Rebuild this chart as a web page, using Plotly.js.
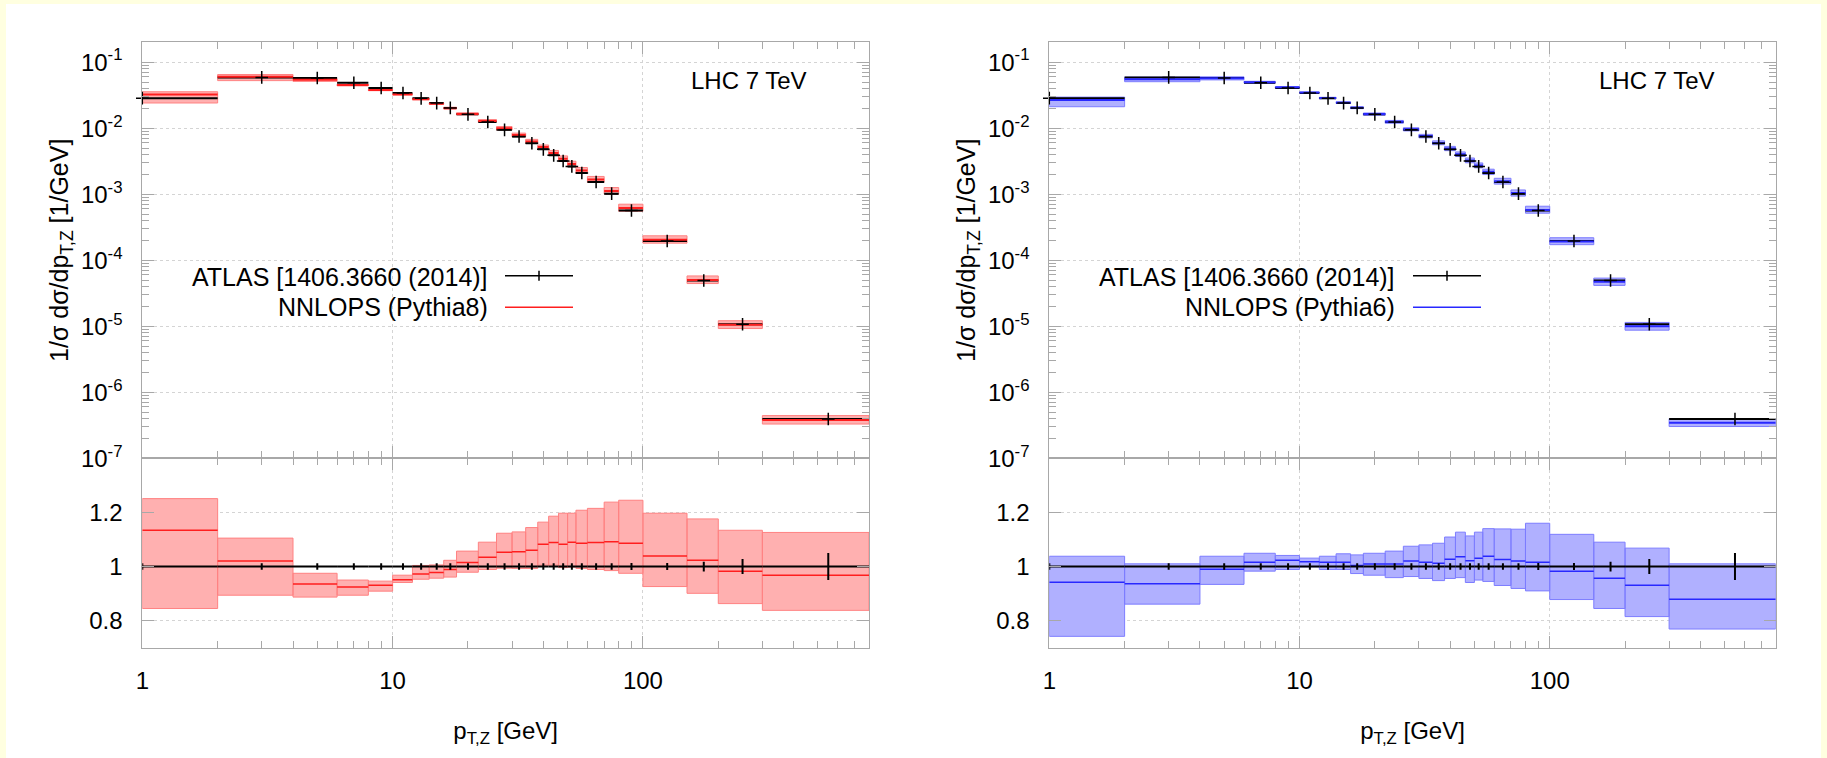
<!DOCTYPE html>
<html><head><meta charset="utf-8">
<script src="https://cdn.plot.ly/plotly-3.0.1.min.js"></script>
<style>html,body{margin:0;padding:0;background:#ffffe0;} #chart{width:1827px;height:758px;}</style>
</head><body><div id="chart"></div>
<script>
// ---------------- data ----------------
const binLow  = [0,2,4,6,8,10,12,14,16,18,22,26,30,34,38,42,46,50,54,60,70,80,100,150,200,300];
const binHigh = [2,4,6,8,10,12,14,16,18,22,26,30,34,38,42,46,50,54,60,70,80,100,150,200,300,800];
const binCenter = [1,3,5,7,9,11,13,15,17,20,24,28,32,36,40,44,48,52,57,65,75,90,125,175,250,550];

// ATLAS 1/sigma dsigma/dpT [1/GeV]
const atlasValue = [0.0285,0.0588,0.0577,0.0489,0.0407,0.0341,0.0283,0.0240,0.0203,0.0162,0.0124,0.00944,
  0.00747,0.00592,0.00478,0.00388,0.00318,0.00264,0.00210,0.00153,0.00102,0.000567,0.000196,4.92e-5,1.07e-5,3.94e-7];
const atlasRelErr = [0.012,0.012,0.012,0.012,0.012,0.012,0.012,0.012,0.012,0.012,0.012,0.012,0.012,
  0.012,0.012,0.012,0.012,0.012,0.012,0.012,0.012,0.013,0.013,0.018,0.028,0.050];

// NNLOPS (Pythia8) / data
const p8Ratio   = [1.134,1.020,0.935,0.924,0.931,0.951,0.972,0.978,0.989,1.015,1.034,1.053,1.055,1.060,1.082,1.089,1.082,1.090,1.086,1.089,1.092,1.086,1.039,1.023,0.983,0.968];
const p8RatioLo = [0.845,0.894,0.887,0.894,0.909,0.941,0.953,0.957,0.961,0.979,0.989,0.994,0.993,0.993,1.005,1.005,0.996,0.998,0.993,0.989,0.985,0.975,0.926,0.901,0.863,0.838];
const p8RatioHi = [1.251,1.105,0.975,0.950,0.946,0.968,1.004,1.006,1.023,1.057,1.090,1.123,1.128,1.144,1.164,1.186,1.197,1.197,1.208,1.215,1.238,1.245,1.197,1.176,1.134,1.126];

// NNLOPS (Pythia6) / data
const p6Ratio   = [0.942,0.936,0.990,1.016,1.023,1.018,1.016,1.016,1.004,1.009,1.009,1.020,1.016,1.012,1.027,1.036,1.021,1.031,1.038,1.026,1.020,1.016,0.983,0.957,0.931,0.879];
const p6RatioLo = [0.742,0.861,0.934,0.983,0.989,0.999,0.989,0.989,0.974,0.968,0.959,0.963,0.956,0.948,0.956,0.959,0.941,0.950,0.945,0.930,0.919,0.910,0.878,0.845,0.815,0.769];
const p6RatioHi = [1.038,1.010,1.038,1.049,1.041,1.031,1.038,1.047,1.043,1.049,1.057,1.075,1.080,1.086,1.109,1.127,1.113,1.127,1.140,1.139,1.138,1.160,1.119,1.090,1.068,1.010];

const yTickVals = [1e-7,1e-6,1e-5,1e-4,1e-3,1e-2,1e-1];
const yTickText = ['10<sup>-7</sup>','10<sup>-6</sup>','10<sup>-5</sup>','10<sup>-4</sup>','10<sup>-3</sup>','10<sup>-2</sup>','10<sup>-1</sup>'];
const rTickVals = [0.8,1,1.2];
const rTickText = ['0.8','1','1.2'];
const xTickVals = [1,10,100];
const xTickText = ['1','10','100'];

// ---------------- layout helpers ----------------
const W = 1827, H = 758;
const FONT = 'Liberation Sans, Arial, Helvetica, sans-serif';
const X_MIN = 1, X_MAX = 800;
const fx = p => p / W;
const fy = p => 1 - p / H;

function clampX(v){ return Math.max(v, X_MIN); }

function hsegs(yv){
  const xs = [], ys = [];
  for (let i = 0; i < binLow.length; i++){
    xs.push(clampX(binLow[i]), binHigh[i], null);
    ys.push(yv[i], yv[i], null);
  }
  return {x: xs, y: ys};
}
function boxes(lo, hi){
  const xs = [], ys = [];
  for (let i = 0; i < binLow.length; i++){
    const a = clampX(binLow[i]), b = binHigh[i];
    xs.push(a, b, b, a, a, null);
    ys.push(lo[i], lo[i], hi[i], hi[i], lo[i], null);
  }
  return {x: xs, y: ys};
}
function vsegs(center, lo, hi){
  const xs = [], ys = [];
  for (let i = 0; i < center.length; i++){
    xs.push(center[i], center[i], null);
    ys.push(lo[i], hi[i], null);
  }
  return {x: xs, y: ys};
}

function panel(xt, yt, xb, yb, ratio, rLo, rHi, lineCol, fillCol, edgeCol){
  const thC  = atlasValue.map((v,i) => v * ratio[i]);
  const thLo = atlasValue.map((v,i) => v * rLo[i]);
  const thHi = atlasValue.map((v,i) => v * rHi[i]);
  const ones = atlasValue.map(() => 1);
  const eLo = atlasRelErr.map(e => 1 - e);
  const eHi = atlasRelErr.map(e => 1 + e);
  const tr = [];
  // upper panel
  const bu = boxes(thLo, thHi);
  tr.push({type:'scatter', mode:'lines', x:bu.x, y:bu.y, xaxis:xt, yaxis:yt, fill:'toself', fillcolor:fillCol,
           line:{color:edgeCol, width:1}, hoverinfo:'skip', showlegend:false});
  const su = hsegs(atlasValue);
  tr.push({type:'scatter', mode:'lines', x:su.x, y:su.y, xaxis:xt, yaxis:yt, line:{color:'#000', width:2}, showlegend:false});
  const cu = hsegs(thC);
  tr.push({type:'scatter', mode:'lines', x:cu.x, y:cu.y, xaxis:xt, yaxis:yt, line:{color:lineCol, width:2}, showlegend:false});
  tr.push({type:'scatter', mode:'markers', x:binCenter, y:atlasValue, xaxis:xt, yaxis:yt, cliponaxis:false,
           marker:{symbol:'cross-thin-open', size:9, color:'#000', line:{color:'#000', width:1.5}}, showlegend:false});
  // ratio panel
  const bb = boxes(rLo, rHi);
  tr.push({type:'scatter', mode:'lines', x:bb.x, y:bb.y, xaxis:xb, yaxis:yb, fill:'toself', fillcolor:fillCol,
           line:{color:edgeCol, width:1}, hoverinfo:'skip', showlegend:false});
  const cb = hsegs(ratio);
  tr.push({type:'scatter', mode:'lines', x:cb.x, y:cb.y, xaxis:xb, yaxis:yb, line:{color:lineCol, width:1.5}, showlegend:false});
  const ob = hsegs(ones);
  tr.push({type:'scatter', mode:'lines', x:ob.x, y:ob.y, xaxis:xb, yaxis:yb, line:{color:'#000', width:2}, showlegend:false});
  const eb = vsegs(binCenter, eLo, eHi);
  tr.push({type:'scatter', mode:'lines', x:eb.x, y:eb.y, xaxis:xb, yaxis:yb, line:{color:'#000', width:2}, showlegend:false});
  return tr;
}

const data = [].concat(
  panel('x','y','x2','y2', p8Ratio, p8RatioLo, p8RatioHi, 'rgb(255,30,30)', 'rgb(255,176,176)', 'rgb(255,130,130)'),
  panel('x3','y3','x4','y4', p6Ratio, p6RatioLo, p6RatioHi, 'rgb(40,40,255)', 'rgb(176,176,255)', 'rgb(125,125,255)')
);

const GREY = '#a8a8a8';
const base = {
  showline:true, linecolor:GREY, linewidth:1, mirror:'ticks',
  ticks:'inside', ticklen:12, tickcolor:GREY, tickwidth:1,
  showgrid:true, gridcolor:'#d4d4d4', griddash:'dot', gridwidth:1, zeroline:false,
  tickfont:{family:FONT, size:24, color:'#000'}, ticklabelstandoff:14
};
const minorLog = {ticks:'inside', ticklen:7, tickcolor:GREY, dtick:'D1', showgrid:false};

const leftDom = [fx(142.3), fx(869)];
const rightDom = [fx(1049.3), fx(1775.7)];
const topDom = [fy(458.3), fy(42.3)];
const botDom = [fy(647.7), fy(458.3)];

function xAxis(dom, anchor, labels){
  const ax = Object.assign({}, base, {
    type:'log', domain:dom, anchor:anchor, range:[Math.log10(X_MIN), Math.log10(X_MAX)],
    tickmode:'array', tickvals:xTickVals, ticktext:xTickText, showticklabels:labels,
    minor:minorLog, ticklabelstandoff:11
  });
  if (labels) ax.title = {text:'p<sub>T,Z</sub> [GeV]', font:{family:FONT, size:24, color:'#000'}, standoff:29};
  return ax;
}
function yTop(dom, anchor){
  return Object.assign({}, base, {
    type:'log', domain:dom, anchor:anchor, range:[-7, Math.log10(0.2)],
    tickmode:'array', tickvals:yTickVals, ticktext:yTickText, minor:minorLog,
    title:{text:'1/σ dσ/dp<sub>T,Z</sub> [1/GeV]', font:{family:FONT, size:25, color:'#000'}, standoff:5}
  });
}
function yBot(dom, anchor){
  return Object.assign({}, base, {
    type:'linear', domain:dom, anchor:anchor, range:[0.7, 1.4],
    tickmode:'array', tickvals:rTickVals, ticktext:rTickText
  });
}

const annFont = {family:FONT, size:24, color:'#000'};
const legFont = {family:FONT, size:25, color:'#000'};
function legendAnn(xEnd, label2){
  return [
    {xref:'paper', yref:'paper', x:fx(xEnd), y:fy(276.7), xanchor:'right', yanchor:'middle', showarrow:false,
     text:'ATLAS [1406.3660 (2014)]', font:legFont},
    {xref:'paper', yref:'paper', x:fx(xEnd), y:fy(306.7), xanchor:'right', yanchor:'middle', showarrow:false,
     text:label2, font:legFont}
  ];
}
function legendShapes(x0, col){
  const x1 = x0 + 68, xm = (x0 + x1) / 2;
  return [
    {type:'line', xref:'paper', yref:'paper', x0:fx(x0), x1:fx(x1), y0:fy(275.7), y1:fy(275.7), line:{color:'#000', width:1.5}},
    {type:'line', xref:'paper', yref:'paper', x0:fx(xm), x1:fx(xm), y0:fy(270.7), y1:fy(280.7), line:{color:'#000', width:1.5}},
    {type:'line', xref:'paper', yref:'paper', x0:fx(x0), x1:fx(x1), y0:fy(307.3), y1:fy(307.3), line:{color:col, width:1.5}}
  ];
}

const layout = {
  width:W, height:H, margin:{l:0, r:0, t:0, b:0},
  paper_bgcolor:'#ffffe0', plot_bgcolor:'rgba(0,0,0,0)',
  font:{family:FONT, size:24, color:'#000'},
  showlegend:false,
  xaxis: xAxis(leftDom, 'y', false),
  yaxis: yTop(topDom, 'x'),
  xaxis2: xAxis(leftDom, 'y2', true),
  yaxis2: yBot(botDom, 'x2'),
  xaxis3: xAxis(rightDom, 'y3', false),
  yaxis3: yTop(topDom, 'x3'),
  xaxis4: xAxis(rightDom, 'y4', true),
  yaxis4: yBot(botDom, 'x4'),
  shapes: [
    {type:'rect', xref:'paper', yref:'paper', x0:fx(6), x1:fx(1821), y0:0, y1:fy(4), fillcolor:'#ffffff', line:{width:0}, layer:'below'}
  ].concat(legendShapes(505, 'rgb(255,30,30)'), legendShapes(1413, 'rgb(40,40,255)')),
  annotations: [
    {xref:'paper', yref:'paper', x:fx(749), y:fy(80), xanchor:'center', yanchor:'middle', showarrow:false, text:'LHC 7 TeV', font:annFont},
    {xref:'paper', yref:'paper', x:fx(1657), y:fy(80), xanchor:'center', yanchor:'middle', showarrow:false, text:'LHC 7 TeV', font:annFont}
  ].concat(legendAnn(490, 'NNLOPS (Pythia8)'), legendAnn(1397, 'NNLOPS (Pythia6)'))
};

Plotly.newPlot('chart', data, layout, {staticPlot:true, displayModeBar:false});
</script>
</body></html>
